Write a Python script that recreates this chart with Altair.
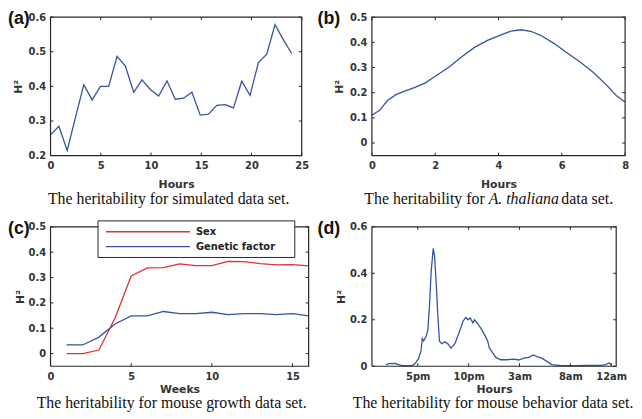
import altair as alt
import pandas as pd

# ---------------- data ----------------
# (a) simulated data set
a_hours = [0, 0.83, 1.66, 2.48, 3.31, 4.14, 4.97, 5.79, 6.62, 7.45, 8.28, 9.1, 9.93, 10.76, 11.59,
           12.41, 13.24, 14.07, 14.9, 15.72, 16.55, 17.38, 18.21, 19.03, 19.86, 20.69, 21.52, 22.34, 23.17, 24.0]
a_h2 = [0.26, 0.285, 0.215, 0.31, 0.405, 0.361, 0.40, 0.40, 0.487, 0.459, 0.383, 0.419, 0.391, 0.372, 0.416,
        0.363, 0.366, 0.383, 0.317, 0.320, 0.345, 0.347, 0.338, 0.415, 0.374, 0.469, 0.493, 0.578, 0.535, 0.495]
a_xdom = [0, 25]
a_ydom = [0.2, 0.6]
a_xticks = [0, 5, 10, 15, 20, 25]
a_yticks = [0.2, 0.3, 0.4, 0.5, 0.6]

# (b) A. thaliana data set
b_hours = [0, 0.24, 0.5, 0.76, 1.02, 1.38, 1.69, 2.0, 2.42, 2.84, 3.25, 3.67, 4.08, 4.4, 4.7, 5.02,
           5.33, 5.75, 6.16, 6.58, 6.99, 7.41, 7.72, 8.0]
b_h2 = [0.11, 0.13, 0.17, 0.192, 0.205, 0.222, 0.239, 0.265, 0.30, 0.343, 0.381, 0.409, 0.43, 0.445, 0.45,
        0.444, 0.428, 0.396, 0.359, 0.322, 0.281, 0.231, 0.189, 0.163]
b_xdom = [0, 8]
b_ydom = [-0.05, 0.5]
b_xticks = [0, 2, 4, 6, 8]
b_yticks = [0, 0.1, 0.2, 0.3, 0.4, 0.5]

# (c) mouse growth data set
c_weeks = [1, 2, 3, 4, 5, 6, 7, 8, 9, 10, 11, 12, 13, 14, 15, 16]
c_sex = [0, 0, 0.014, 0.14, 0.306, 0.338, 0.339, 0.354, 0.347, 0.347, 0.364, 0.363, 0.355, 0.35, 0.351, 0.346]
c_gen = [0.034, 0.034, 0.065, 0.117, 0.149, 0.149, 0.166, 0.158, 0.158, 0.163, 0.154, 0.158, 0.158, 0.154, 0.158, 0.149]
c_series = ["Sex", "Genetic factor"]
c_xdom = [0, 16]
c_ydom = [-0.05, 0.5]
c_xticks = [0, 5, 10, 15]
c_yticks = [0, 0.1, 0.2, 0.3, 0.4, 0.5]

# (d) mouse behavior data set (hours on a continuous clock, 24 = midnight)
d_hours = [13.87, 14.19, 14.84, 15.0, 15.48, 16.45, 16.77, 17.10, 17.32, 17.45, 17.58, 17.84, 18.0, 18.16,
           18.32, 18.52, 18.65, 18.81, 18.97, 19.13, 19.35, 19.68, 20.0, 20.26, 20.65, 21.06, 21.45, 21.71,
           21.94, 22.16, 22.42, 22.58, 22.9, 23.23, 23.55, 23.87, 24.03, 24.35, 24.68, 25.16, 25.81, 26.45,
           26.94, 27.42, 27.9, 28.39, 28.71, 29.19, 29.68, 30.16, 31.13, 32.42, 33.71, 35.0, 35.48, 35.81, 36.06]
d_h2 = [0.007, 0.011, 0.012, 0.008, 0.003, 0.003, 0.013, 0.035, 0.066, 0.12, 0.109, 0.13, 0.158, 0.264,
        0.405, 0.507, 0.476, 0.363, 0.222, 0.109, 0.097, 0.105, 0.095, 0.078, 0.097, 0.144, 0.194, 0.21,
        0.2, 0.208, 0.186, 0.2, 0.182, 0.162, 0.137, 0.109, 0.08, 0.059, 0.038, 0.028, 0.028, 0.031,
        0.027, 0.035, 0.038, 0.049, 0.041, 0.035, 0.021, 0.007, 0.003, 0.003, 0.004, 0.004, 0.007, 0.014, 0.007]
d_xdom = [12.5, 36.5]
d_ydom = [0, 0.6]
d_tick_vals = [17, 22, 27, 32, 36]
d_tick_labels = ["5pm", "10pm", "3am", "8am", "12am"]
d_yticks = [0, 0.2, 0.4, 0.6]

# ---------------- styling ----------------
BLUE = "#3553a0"
RED = "#e0312f"
FRAME = "#262626"
TXT = "#333333"
AXFONT = "DejaVu Sans"
CAPFONT = "Liberation Serif"
TICKLEN = 3
one = pd.DataFrame({"k": [0]})


def box_layers(xdom, ydom, xticks, yticks, xscale, yscale, w, h):
    """Frame and inward ticks drawn as line marks through the panel's own scales."""
    x0, x1 = xdom
    y0, y1 = ydom
    frame_df = pd.DataFrame({"x": [x0, x1, x1, x0, x0], "y": [y0, y0, y1, y1, y0], "o": [0, 1, 2, 3, 4]})
    frame = alt.Chart(frame_df).mark_line(color=FRAME, strokeWidth=1.2).encode(
        x=alt.X("x:Q", scale=xscale, axis=None), y=alt.Y("y:Q", scale=yscale, axis=None),
        order=alt.Order("o:Q"))
    dx = TICKLEN * (x1 - x0) / w
    dy = TICKLEN * (y1 - y0) / h
    g, xx, yy, oo = [], [], [], []
    gid = 0
    for t in xticks:
        for base, tip in ((y0, y0 + dy), (y1, y1 - dy)):
            g += [gid, gid]; xx += [t, t]; yy += [base, tip]; oo += [0, 1]; gid += 1
    for t in yticks:
        for base, tip in ((x0, x0 + dx), (x1, x1 - dx)):
            g += [gid, gid]; xx += [base, tip]; yy += [t, t]; oo += [0, 1]; gid += 1
    tick_df = pd.DataFrame({"g": g, "x": xx, "y": yy, "o": oo})
    ticks = alt.Chart(tick_df).mark_line(color=FRAME, strokeWidth=1).encode(
        x=alt.X("x:Q", scale=xscale, axis=None), y=alt.Y("y:Q", scale=yscale, axis=None),
        detail="g:N", order=alt.Order("o:Q"))
    return [frame, ticks]


def label_mark(text, x, y=7):
    return alt.Chart(one).mark_text(text=text, align="left", baseline="alphabetic",
                                    font="Liberation Sans", fontSize=18, fontWeight="bold",
                                    color="#111111").encode(x=alt.value(x), y=alt.value(y))


def caption(text, x, y, align="center", style="normal"):
    return alt.Chart(one).mark_text(text=text, align=align, baseline="alphabetic", font=CAPFONT,
                                    fontSize=16, fontStyle=style, color="#111111").encode(
        x=alt.value(x), y=alt.value(y))


def xaxis(values, title, tpad, expr=None):
    kw = dict(values=values, title=title, format="~g", labelFlush=False, labelOverlap=False,
              labelPadding=5, titlePadding=tpad)
    if expr is not None:
        kw["labelExpr"] = expr
    return alt.Axis(**kw)


def yaxis(values, tpad):
    return alt.Axis(values=values, title="H²", format="~g", labelPadding=5, titlePadding=tpad)


def panel(layers, w, h):
    return alt.layer(*layers).resolve_axis(x="independent", y="independent").properties(width=w, height=h)


# ---------- panel (a) ----------
wa, ha = 254, 140
xs = alt.Scale(domain=a_xdom, nice=False, zero=False)
ys = alt.Scale(domain=a_ydom, nice=False, zero=False)
dfa = pd.DataFrame({"x": a_hours, "y": a_h2})
line_a = alt.Chart(dfa).mark_line(color=BLUE, strokeWidth=1.3).encode(
    x=alt.X("x:Q", scale=xs, axis=xaxis(a_xticks, "Hours", 8)),
    y=alt.Y("y:Q", scale=ys, axis=yaxis(a_yticks, 5)))
pa = panel([line_a, *box_layers(a_xdom, a_ydom, a_xticks, a_yticks, xs, ys, wa, ha),
            label_mark("(a)", -43),
            caption("The heritability for simulated data set.", 119.5, ha + 49)], wa, ha)

# ---------- panel (b) ----------
wb, hb = 256, 140
xs = alt.Scale(domain=b_xdom, nice=False, zero=False)
ys = alt.Scale(domain=b_ydom, nice=False, zero=False)
dfb = pd.DataFrame({"x": b_hours, "y": b_h2})
line_b = alt.Chart(dfb).mark_line(color=BLUE, strokeWidth=1.3).encode(
    x=alt.X("x:Q", scale=xs, axis=xaxis(b_xticks, "Hours", 8)),
    y=alt.Y("y:Q", scale=ys, axis=yaxis(b_yticks, 5)))
pb = panel([line_b, *box_layers(b_xdom, b_ydom, b_xticks, b_yticks, xs, ys, wb, hb),
            label_mark("(b)", -55),
            caption("The heritability for", 114, hb + 49, align="right"),
            caption("A. thaliana", 118, hb + 49, align="left", style="italic"),
            caption("data set.", 191.5, hb + 49, align="left")], wb, hb)

# ---------- panel (c) ----------
wc, hc = 261, 141
xs = alt.Scale(domain=c_xdom, nice=False, zero=False)
ys = alt.Scale(domain=c_ydom, nice=False, zero=False)
cscale = alt.Scale(domain=c_series, range=[RED, BLUE])
dfc = pd.DataFrame({"x": c_weeks * 2, "y": c_sex + c_gen,
                    "s": [c_series[0]] * len(c_weeks) + [c_series[1]] * len(c_weeks)})
line_c = alt.Chart(dfc).mark_line(strokeWidth=1.3).encode(
    x=alt.X("x:Q", scale=xs, axis=xaxis(c_xticks, "Weeks", 3)),
    y=alt.Y("y:Q", scale=ys, axis=yaxis(c_yticks, 3)),
    color=alt.Color("s:N", scale=cscale, legend=None))
leg_box = alt.Chart(one).mark_rect(fill="white", stroke=FRAME, strokeWidth=1).encode(
    x=alt.value(48), x2=alt.value(247), y=alt.value(-6), y2=alt.value(31))
leg_items = []
for name, col, yy in zip(c_series, [RED, BLUE], [5, 20]):
    leg_items.append(alt.Chart(one).mark_rule(color=col, strokeWidth=1.3).encode(
        x=alt.value(56), x2=alt.value(141), y=alt.value(yy)))
    leg_items.append(alt.Chart(one).mark_text(text=name, align="left", baseline="middle", font=AXFONT,
                                              fontSize=10, fontWeight="bold", color="#222222").encode(
        x=alt.value(147), y=alt.value(yy)))
pc = panel([line_c, *box_layers(c_xdom, c_ydom, c_xticks, c_yticks, xs, ys, wc, hc),
            leg_box, *leg_items,
            label_mark("(c)", -43),
            caption("The heritability for mouse growth data set.", 122.5, hc + 42)], wc, hc)

# ---------- panel (d) ----------
wd, hd = 247, 141
xs = alt.Scale(domain=d_xdom, nice=False, zero=False)
ys = alt.Scale(domain=d_ydom, nice=False, zero=False)
expr = " : ".join(f"datum.value == {v} ? '{l}'" for v, l in zip(d_tick_vals, d_tick_labels)) + " : ''"
dfd = pd.DataFrame({"x": d_hours, "y": d_h2})
line_d = alt.Chart(dfd).mark_line(color=BLUE, strokeWidth=1.3).encode(
    x=alt.X("x:Q", scale=xs, axis=xaxis(d_tick_vals, "Hours", 3, expr)),
    y=alt.Y("y:Q", scale=ys, axis=yaxis(d_yticks, 3)))
pd_ = panel([line_d, *box_layers(d_xdom, d_ydom, d_tick_vals, d_yticks, xs, ys, wd, hd),
             label_mark("(d)", -55),
             caption("The heritability for mouse behavior data set.", 122.5, hd + 42)], wd, hd)

chart = alt.concat(pa, pb, pc, pd_, columns=2, spacing={"row": 72, "column": 64},
                   bounds="flush", padding=0).configure_axis(
    labelFont=AXFONT, labelFontSize=10, labelFontWeight="bold", labelColor=TXT,
    titleFont=AXFONT, titleFontSize=11, titleFontWeight="bold", titleColor=TXT,
    ticks=False, tickSize=0, domain=False, grid=False
).configure_view(strokeWidth=0, strokeOpacity=0)

chart.save("out.html", embed_options={"renderer": "svg", "actions": False})
